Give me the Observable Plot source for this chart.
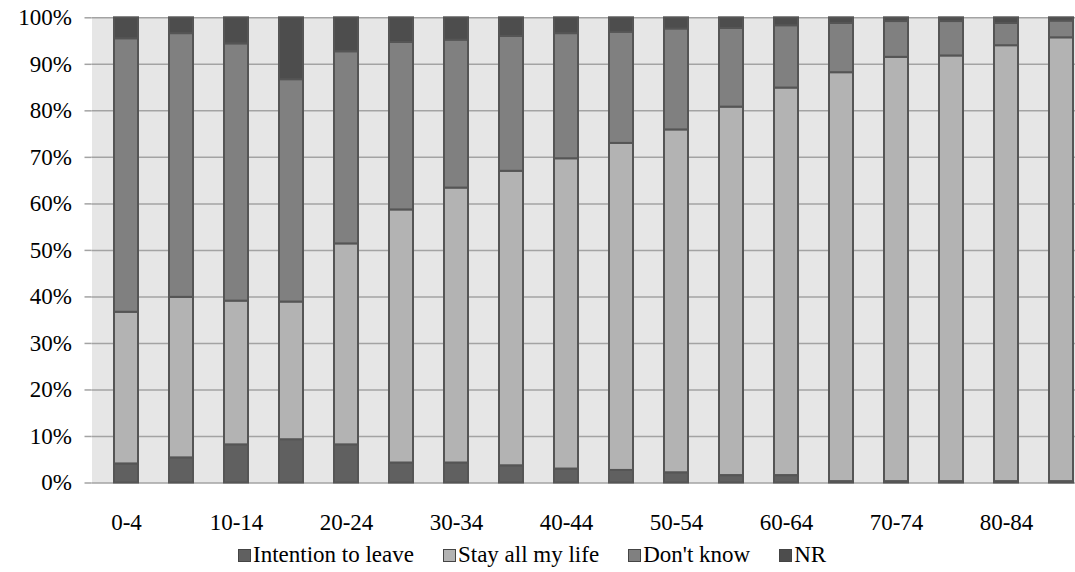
<!DOCTYPE html>
<html>
<head>
<meta charset="utf-8">
<script src="https://cdn.jsdelivr.net/npm/d3@7"></script>
<script src="https://cdn.jsdelivr.net/npm/@observablehq/plot@0.6"></script>
<style>
  html, body { margin: 0; padding: 0; background: #fff; overflow: hidden; width: 1075px; height: 572px; }
  #chart { position: absolute; left: 0; top: 0; width: 1100px; }
  #chart svg { max-width: none !important; }
  #legend { position: absolute; left: 238px; top: 542px; display: flex; align-items: center;
            font-size: 23px; color: #000; white-space: nowrap; }
  .item { display: flex; align-items: center; margin-right: 29px; }
  .sw { width: 13px; height: 13px; box-sizing: border-box; border: 1px solid #444; margin-right: 2px; }
</style>
</head>
<body>
<div id="chart"></div>
<div id="legend"></div>
<script>
const ages = ["0-4","5-9","10-14","15-19","20-24","25-29","30-34","35-39","40-44","45-49","50-54","55-59","60-64","65-69","70-74","75-79","80-84","85-89"];
const xTickLabels = ["0-4","10-14","20-24","30-34","40-44","50-54","60-64","70-74","80-84"];
const seriesNames = ["Intention to leave","Stay all my life","Don't know","NR"];
const seriesColors = ["#606060","#b3b3b3","#808080","#4d4d4d"];
const intention = [4.1,5.4,8.2,9.3,8.2,4.3,4.3,3.7,3.0,2.7,2.2,1.6,1.6,0.3,0.3,0.3,0.3,0.3];
const stay      = [32.6,34.5,30.9,29.6,43.2,54.4,59.1,63.3,66.7,70.3,73.7,79.2,83.3,87.9,91.2,91.5,93.7,95.4];
const dontKnow  = [58.8,56.7,55.3,47.8,41.3,36.0,31.8,29.0,26.9,23.9,21.7,16.9,13.4,10.6,7.7,7.4,4.8,3.6];
const nr        = [4.5,3.4,5.6,13.3,7.3,5.3,4.8,4.0,3.4,3.1,2.4,2.3,1.7,1.2,0.8,0.8,1.2,0.7];
const yTicks = [0,10,20,30,40,50,60,70,80,90,100];

// pick an installed serif font
const candidates = ["Liberation Serif", "Times New Roman", "Tinos", "Nimbus Roman", "Nimbus Roman No9 L", "FreeSerif", "DejaVu Serif", "Noto Serif"];
const ctx = document.createElement("canvas").getContext("2d");
const sample = "Intention to leave 100% mmmWWWiii";
function w(f) { ctx.font = "24px " + f; return ctx.measureText(sample).width; }
const baseMono = w("monospace"), baseSans = w("sans-serif");
let serifFont = "serif";
for (const c of candidates) {
  const a = w(`"${c}", monospace`), b = w(`"${c}", sans-serif`);
  if (a !== baseMono || b !== baseSans) { serifFont = `"${c}"`; break; }
}
const fontStack = serifFont + ", serif";
document.getElementById("legend").style.fontFamily = fontStack;

const seriesValues = [intention, stay, dontKnow, nr];
const data = [];
ages.forEach((a, i) => {
  seriesNames.forEach((s, j) => data.push({age: a, series: s, value: seriesValues[j][i]}));
});

const chart = Plot.plot({
  width: 1100,
  height: 540,
  marginLeft: 91.5,
  marginRight: 3.5,
  marginTop: 17.3,
  marginBottom: 57.5,
  style: {fontFamily: fontStack, fontSize: "23px", color: "#000", background: "transparent", maxWidth: "none"},
  x: {domain: ages, paddingInner: 0.56, paddingOuter: 0.28, label: null},
  y: {domain: [0, 100], label: null},
  color: {domain: seriesNames, range: seriesColors},
  marks: [
    Plot.frame({fill: "#e6e6e6", stroke: null}),
    Plot.ruleY(yTicks, {stroke: "#a3a3a3", strokeWidth: 1.5}),
    Plot.ruleX([0], {frameAnchor: "left", stroke: "#a3a3a3", strokeWidth: 1.5}),
    Plot.axisY({ticks: yTicks, tickFormat: d => d + "%", tickSize: 7, tickPadding: 13, stroke: "#a3a3a3", strokeWidth: 1.5, fontSize: 23, label: null}),
    Plot.axisX({ticks: xTickLabels, tickSize: 0, tickPadding: 31, fontSize: 23, label: null}),
    Plot.barY(data, Plot.stackY({order: seriesNames}, {x: "age", y: "value", z: "series", fill: "series", stroke: "#555", strokeWidth: 2, inset: 0}))
  ]
});
chart.style.maxWidth = "none";
chart.style.fontFamily = fontStack;
document.getElementById("chart").appendChild(chart);

const legend = document.getElementById("legend");
seriesNames.forEach((s, j) => {
  const it = document.createElement("div");
  it.className = "item";
  const sw = document.createElement("span");
  sw.className = "sw";
  sw.style.background = seriesColors[j];
  const t = document.createElement("span");
  t.textContent = s;
  it.appendChild(sw); it.appendChild(t);
  legend.appendChild(it);
});
</script>
</body>
</html>
